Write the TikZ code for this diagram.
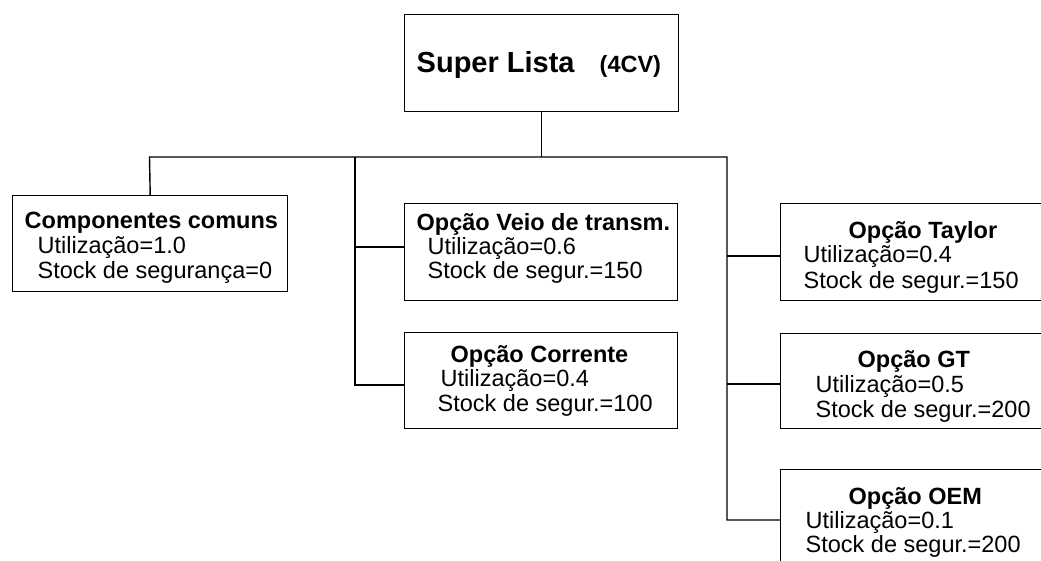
\documentclass[tikz,border=0pt]{standalone}
\usepackage{fontspec}
\setmainfont{Liberation Sans}
\begin{document}
\begin{tikzpicture}[x=1pt,y=-1pt,line width=1.4pt,
  box/.style={draw=black, rectangle, inner sep=0pt, anchor=north west},
  ttl/.style={anchor=base west, inner sep=0pt, font=\bfseries\fontsize{23.5}{28}\selectfont},
  txt/.style={anchor=base west, inner sep=0pt, font=\fontsize{23.5}{28}\selectfont},
  wire/.style={draw=black, line width=1.4pt}]
\clip (0,0) rectangle (1041,561);
\fill[white] (0,0) rectangle (1041,561);
% boxes
\node[box, minimum width=274pt, minimum height=97pt] (sl) at (404,14) {};
\node[box, minimum width=275pt, minimum height=96pt] (cc) at (12,195) {};
\node[box, minimum width=273pt, minimum height=97pt] (veio) at (404,203) {};
\node[box, minimum width=273pt, minimum height=96pt] (corr) at (404,332) {};
\node[box, minimum width=300pt, minimum height=97pt] (taylor) at (780,203) {};
\node[box, minimum width=300pt, minimum height=95pt] (gt) at (780,333) {};
\node[box, minimum width=300pt, minimum height=120pt] (oem) at (780,469) {};
% title text
\node[anchor=base west, inner sep=0pt, font=\bfseries\fontsize{29}{34}\selectfont] (slt) at (416,73) {Super Lista};
\node[anchor=base west, inner sep=0pt, font=\bfseries\fontsize{23.5}{28}\selectfont] (cv) at (599,73) {(4CV)};
% box texts
\node[ttl] (cc1) at (24,229) {Componentes comuns};
\node[txt] (cc2) at (37,254) {Utilização=1.0};
\node[txt] (cc3) at (37,279) {Stock de segurança=0};
\node[ttl] (v1) at (416,231) {Opção Veio de transm.};
\node[txt] (v2) at (427,255) {Utilização=0.6};
\node[txt] (v3) at (427,279) {Stock de segur.=150};
\node[ttl] (c1) at (450,362) {Opção Corrente};
\node[txt] (c2) at (440,386) {Utilização=0.4};
\node[txt] (c3) at (437,411) {Stock de segur.=100};
\node[ttl] (t1) at (848,239) {Opção Taylor};
\node[txt] (t2) at (803,263) {Utilização=0.4};
\node[txt] (t3) at (803,288) {Stock de segur.=150};
\node[ttl] (g1) at (857,367) {Opção GT};
\node[txt] (g2) at (815,392) {Utilização=0.5};
\node[txt] (g3) at (815,417) {Stock de segur.=200};
\node[ttl] (o1) at (848,504) {Opção OEM};
\node[txt] (o2) at (805,528) {Utilização=0.1};
\node[txt] (o3) at (805,552) {Stock de segur.=200};
% connectors
\coordinate (busL) at (149.5,157);
\coordinate (busM) at (355,157);
\coordinate (busR) at (727,157);
\coordinate (jv) at (355,247);
\coordinate (jc) at (355,385);
\coordinate (jt) at (727,256);
\coordinate (jg) at (727,384);
\coordinate (jo) at (727,520);
\draw[wire] (sl.south) -- (sl.south |- busL);
\draw[wire] (cc.north) -- (busL) -- (busR) -- (jo) -- (jo -| oem.west);
\draw[wire] (busM) -- (jc) -- (jc -| corr.west);
\draw[wire] (jv) -- (jv -| veio.west);
\draw[wire] (jt) -- (jt -| taylor.west);
\draw[wire] (jg) -- (jg -| gt.west);
\end{tikzpicture}
\end{document}
